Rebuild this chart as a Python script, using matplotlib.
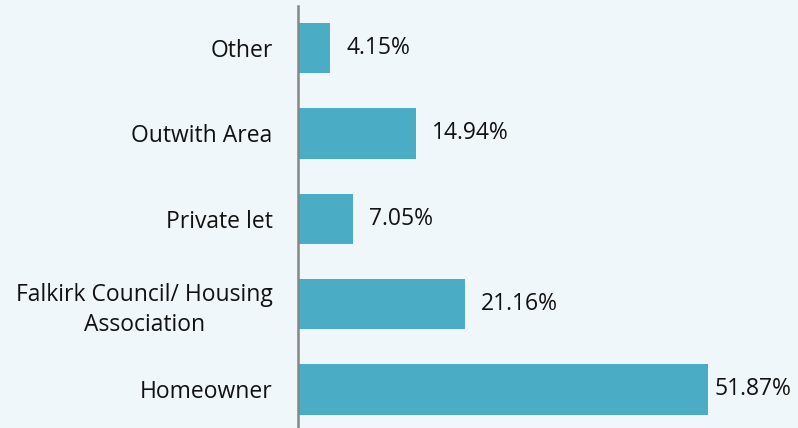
import matplotlib.pyplot as plt

categories = ["Homeowner", "Falkirk Council/ Housing\nAssociation", "Private let",
              "Outwith Area", "Other"]
values = [51.87, 21.16, 7.05, 14.94, 4.15]
value_labels = ["51.87%", "21.16%", "7.05%", "14.94%", "4.15%"]

BG = "#F0F7FA"
BAR = "#4BACC6"

plt.rcParams['font.family'] = ['Open Sans', 'DejaVu Sans']

fig = plt.figure(figsize=(7.98, 4.28), dpi=100, facecolor=BG)
ax = fig.add_axes([297.5 / 798, -4 / 428, 480 / 798, 426.5 / 428])
ax.set_facecolor(BG)

pos = list(range(len(categories)))
ax.barh(pos, values, height=0.59, color=BAR)
for p, v, lab in zip(pos, values, value_labels):
    # long bar: label tucked closer so it stays inside the figure
    gap = 2.0 if v < 40 else 0.8
    ax.text(v + gap, p, lab, va='center', ha='left', fontsize=16.5, color='#111111')

ax.set_xlim(0, 60.7)
ax.set_ylim(-0.5, 4.5)
ax.set_yticks(pos)
ax.set_yticklabels(categories, fontsize=16.5, color='#111111',
                   multialignment='center', linespacing=1.35)
ax.tick_params(axis='y', length=0, pad=18)
ax.set_xticks([])
for s in ['top', 'right', 'bottom']:
    ax.spines[s].set_visible(False)
ax.spines['left'].set_color('#868686')
ax.spines['left'].set_linewidth(1.8)

fig.savefig("out.png", dpi=100, facecolor=BG)
